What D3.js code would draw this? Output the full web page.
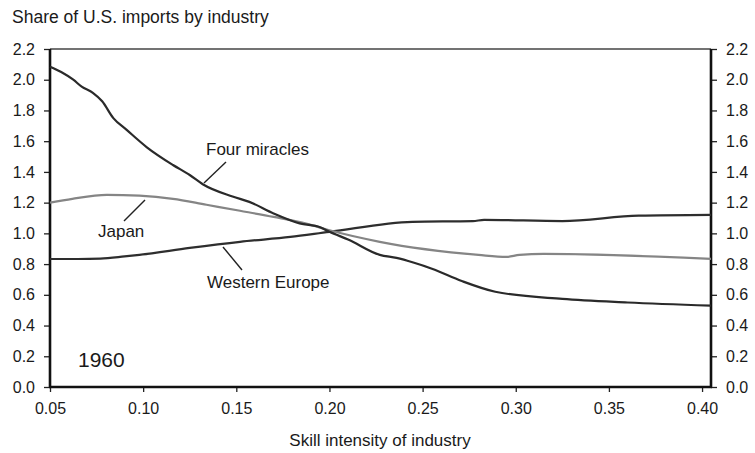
<!DOCTYPE html>
<html>
<head>
<meta charset="utf-8">
<script src="https://cdn.jsdelivr.net/npm/d3@7"></script>
<style>
  html, body { margin: 0; padding: 0; background: #fff; }
  svg text { font-family: "Liberation Sans", Arial, Helvetica, sans-serif; fill: #1a1a1a; }
</style>
</head>
<body>
<svg id="chart" width="755" height="453"></svg>
<script>
// ---- Data ----
const xTicks = [0.05, 0.10, 0.15, 0.20, 0.25, 0.30, 0.35, 0.40];
const yTicks = [0.0, 0.2, 0.4, 0.6, 0.8, 1.0, 1.2, 1.4, 1.6, 1.8, 2.0, 2.2];

const fourMiraclesX = [0.05, 0.056, 0.0625, 0.067, 0.073, 0.078, 0.084, 0.091, 0.102, 0.116, 0.125, 0.132, 0.148, 0.157, 0.17, 0.184, 0.195, 0.20, 0.21, 0.227, 0.236, 0.245, 0.255, 0.271, 0.289, 0.325, 0.36, 0.4048];
const fourMiraclesY = [2.085, 2.05, 2.00, 1.955, 1.915, 1.86, 1.75, 1.675, 1.56, 1.445, 1.38, 1.32, 1.24, 1.205, 1.13, 1.065, 1.04, 1.01, 0.96, 0.86, 0.84, 0.81, 0.77, 0.69, 0.62, 0.573, 0.55, 0.53];

const japanX = [0.05, 0.062, 0.0805, 0.098, 0.116, 0.134, 0.152, 0.17, 0.188, 0.20, 0.227, 0.28, 0.295, 0.302, 0.315, 0.4048];
const japanY = [1.20, 1.225, 1.25, 1.245, 1.225, 1.186, 1.147, 1.107, 1.062, 1.02, 0.945, 0.86, 0.847, 0.86, 0.866, 0.834];

const westEuropeX = [0.05, 0.065, 0.077, 0.09, 0.098, 0.125, 0.152, 0.179, 0.20, 0.2445, 0.277, 0.283, 0.325, 0.366, 0.4048];
const westEuropeY = [0.833, 0.833, 0.836, 0.85, 0.86, 0.905, 0.945, 0.977, 1.01, 1.075, 1.08, 1.088, 1.08, 1.115, 1.12];

const seriesNames = ["Four miracles", "Japan", "Western Europe"];
const titleText = "Share of U.S. imports by industry";
const xTitleText = "Skill intensity of industry";
const yearText = "1960";

// ---- Layout ----
const svg = d3.select("#chart");
const x = d3.scaleLinear().domain([0.05, 0.4048]).range([50, 711]);
const y = d3.scaleLinear().domain([0, 2.2]).range([387, 49]);

// Title
svg.append("text").attr("x", 12).attr("y", 23)
  .style("font-size", "17.5px").text(titleText);

// Axes (ticks + labels)
const fmtY = d3.format(".1f"), fmtX = d3.format(".2f");
const gl = svg.append("g").attr("transform", "translate(50,0)")
  .call(d3.axisLeft(y).tickValues(yTicks).tickFormat(fmtY).tickSize(6).tickPadding(9));
const gr = svg.append("g").attr("transform", "translate(711,0)")
  .call(d3.axisRight(y).tickValues(yTicks).tickFormat(fmtY).tickSize(6).tickPadding(9));
const gb = svg.append("g").attr("transform", "translate(0,387)")
  .call(d3.axisBottom(x).tickValues(xTicks).tickFormat(fmtX).tickSize(5).tickPadding(11));
[gl, gr, gb].forEach(g => {
  g.select(".domain").remove();
  g.selectAll(".tick line").attr("stroke", "#222").attr("stroke-width", 1.3);
  g.selectAll(".tick text").style("font-size", "16px").attr("fill", "#1a1a1a")
    .style("font-family", "'Liberation Sans', Arial, sans-serif");
});

// Frame
svg.append("line").attr("x1", x.range()[0]).attr("x2", x.range()[1]).attr("y1", y(2.2)).attr("y2", y(2.2))
  .attr("stroke", "#444").attr("stroke-width", 1.5);
svg.append("line").attr("x1", x.range()[0]-1).attr("x2", x.range()[1]+1).attr("y1", y(0)).attr("y2", y(0))
  .attr("stroke", "#111").attr("stroke-width", 2.6);
svg.append("line").attr("x1", x.range()[0]).attr("x2", x.range()[0]).attr("y1", y(2.2)).attr("y2", y(0))
  .attr("stroke", "#111").attr("stroke-width", 2.6);
svg.append("line").attr("x1", x.range()[1]).attr("x2", x.range()[1]).attr("y1", y(2.2)).attr("y2", y(0))
  .attr("stroke", "#111").attr("stroke-width", 2.6);

// Lines
const line = d3.line().x(d => x(d[0])).y(d => y(d[1])).curve(d3.curveMonotoneX);
const zip = (a, b) => a.map((v, i) => [v, b[i]]);

svg.append("path").datum(zip(westEuropeX, westEuropeY)).attr("d", line)
  .attr("fill", "none").attr("stroke", "#2e2e2e").attr("stroke-width", 2.2);
svg.append("path").datum(zip(japanX, japanY)).attr("d", line)
  .attr("fill", "none").attr("stroke", "#858585").attr("stroke-width", 2.2);
svg.append("path").datum(zip(fourMiraclesX, fourMiraclesY)).attr("d", line)
  .attr("fill", "none").attr("stroke", "#2a2a2a").attr("stroke-width", 2.2);

// Labels with leader lines
const lab = svg.append("g");
lab.append("text").attr("x", 206).attr("y", 155).style("font-size", "17px").text(seriesNames[0]);
lab.append("line").attr("x1", 226).attr("y1", 162).attr("x2", 204).attr("y2", 183)
  .attr("stroke", "#222").attr("stroke-width", 1.4);
lab.append("text").attr("x", 98).attr("y", 237).style("font-size", "17px").text(seriesNames[1]);
lab.append("line").attr("x1", 145).attr("y1", 200).attr("x2", 124).attr("y2", 221)
  .attr("stroke", "#222").attr("stroke-width", 1.4);
lab.append("text").attr("x", 207).attr("y", 288).style("font-size", "17px").text(seriesNames[2]);
lab.append("line").attr("x1", 223).attr("y1", 247).attr("x2", 242).attr("y2", 270)
  .attr("stroke", "#222").attr("stroke-width", 1.4);

// Year
svg.append("text").attr("x", 78).attr("y", 367).style("font-size", "21px").text(yearText);

// X axis title
svg.append("text").attr("x", 380).attr("y", 446).attr("text-anchor", "middle")
  .style("font-size", "17px").text(xTitleText);
</script>
</body>
</html>
